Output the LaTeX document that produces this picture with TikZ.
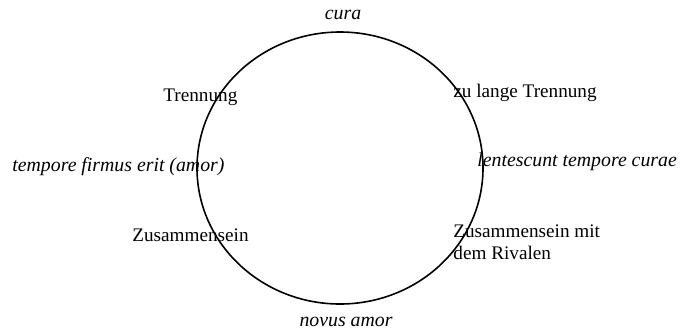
\documentclass[tikz,border=0pt]{standalone}
\usepackage{fontspec}
\setmainfont{Liberation Serif}
\tikzset{
  lbl/.style={inner sep=0pt,font=\fontsize{9.6}{11}\selectfont},
  latin/.style={lbl,font=\fontsize{9.9}{11}\selectfont\itshape},
}
\begin{document}
\begin{tikzpicture}[x=0.5pt,y=-0.5pt]
  \useasboundingbox (0,0) rectangle (680,329);
  % the circle
  \draw[black,line width=0.8pt] (340,168) ellipse (143 and 136);
  % top and bottom
  \node[latin] (cura) at (343,15) {cura};
  \node[latin] (novus) at (346,322) {novus amor};
  % left side
  \node[lbl,anchor=west] (trennung) at (163,97) {Trennung};
  \node[latin,anchor=west] (firmus) at (12,167) {tempore firmus erit (amor)};
  \node[lbl,anchor=west] (zusammen) at (132,235) {Zusammensein};
  % right side
  \node[lbl,anchor=west] (zulange) at (453,93) {zu lange Trennung};
  \node[latin,anchor=west] (lentescunt) at (477,162) {lentescunt tempore curae};
  \node[lbl,anchor=west,align=left] (rivalen) at (453,242)
    {Zusammensein mit\\dem Rivalen};
\end{tikzpicture}
\end{document}
